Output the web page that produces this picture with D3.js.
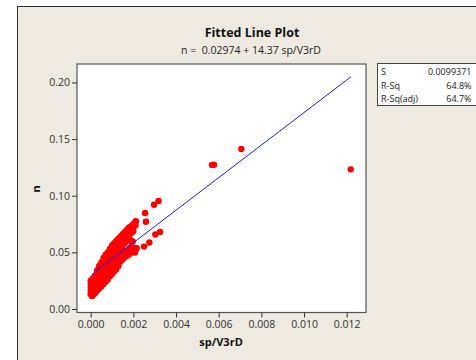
<!DOCTYPE html>
<html>
<head>
<meta charset="utf-8">
<script src="https://cdn.jsdelivr.net/npm/d3@7"></script>
<style>
body{margin:0;background:#fff;}
svg{display:block;font-family:"Open Sans",sans-serif;}
</style>
</head>
<body>
<svg id="chart" width="476" height="360"></svg>
<script>
// fitted line coefficients
var intercept=0.02974, slope=14.37;
var lineX=[0.00005, 0.0122];

// main cluster, one column of n values per sp/V3rD value
var clusterX=[0.0000,0.0001,0.0002,0.0003,0.0004,0.0005,0.0006,0.0007,0.0008,0.0009,0.0010,
  0.0011,0.0012,0.0013,0.0014,0.0015,0.0016,0.0017,0.0018,0.0019,0.0020,0.0021];
var clusterN=[
  [0.013,0.016,0.019,0.022,0.025],
  [0.012,0.015,0.018,0.021,0.024,0.027],
  [0.014,0.017,0.020,0.023,0.026,0.029],
  [0.016,0.019,0.022,0.025,0.028,0.031,0.034],
  [0.018,0.021,0.024,0.027,0.030,0.033,0.036,0.038],
  [0.020,0.023,0.026,0.029,0.032,0.035,0.038,0.041],
  [0.022,0.025,0.028,0.031,0.034,0.037,0.040,0.043,0.045],
  [0.024,0.027,0.030,0.033,0.036,0.039,0.042,0.045,0.048],
  [0.026,0.029,0.032,0.035,0.038,0.041,0.044,0.047,0.050],
  [0.029,0.032,0.035,0.038,0.041,0.044,0.047,0.050,0.053],
  [0.031,0.034,0.037,0.040,0.043,0.046,0.050,0.053,0.056],
  [0.033,0.036,0.039,0.042,0.045,0.052,0.055,0.058],
  [0.035,0.038,0.041,0.044,0.047,0.054,0.057,0.060],
  [0.038,0.041,0.044,0.047,0.050,0.053,0.056,0.059,0.062],
  [0.042,0.045,0.050,0.054,0.058,0.061,0.064],
  [0.044,0.047,0.052,0.056,0.060,0.063,0.066],
  [0.046,0.050,0.058,0.062,0.065,0.068],
  [0.047,0.051,0.060,0.064,0.067,0.070],
  [0.048,0.053,0.063,0.066,0.069,0.072],
  [0.050,0.055,0.060,0.067,0.070,0.073],
  [0.050,0.069,0.072,0.075],
  [0.052,0.054,0.074,0.077]
];
// scattered points
var outX=[0.00006,0.00197,0.00197,0.00208,0.00216,0.00212,0.0025,0.00255,0.00259,0.00275,0.00297,0.00303,0.00318,0.00325,0.00569,0.00578,0.00706,0.01219];
var outN=[0.0115,0.0596,0.0684,0.0498,0.0537,0.0776,0.0551,0.0847,0.077,0.0587,0.092,0.0658,0.0953,0.068,0.1272,0.1274,0.1413,0.1233];

var xTicks=[0,0.002,0.004,0.006,0.008,0.010,0.012];
var yTicks=[0,0.05,0.10,0.15,0.20];
var statNames=["S","R-Sq","R-Sq(adj)"];
var statVals=["0.0099371","64.8%","64.7%"];

var pts=[];
clusterX.forEach(function(xv,i){
  clusterN[i].forEach(function(nv){ pts.push([xv,nv]); });
});
outX.forEach(function(xv,i){ pts.push([xv,outN[i]]); });

var svg=d3.select("#chart");
var pLeft=77, pRight=366, pTop=64, pBottom=312.5;

// outer panel
svg.append("rect").attr("x",17.5).attr("y",6.5).attr("width",500).attr("height",400)
  .attr("fill","#eeeae1").attr("stroke","#333").attr("stroke-width",1);

var x=d3.scaleLinear().domain([-0.000642,0.012905]).range([pLeft,pRight]);
var y=d3.scaleLinear().domain([-0.0031,0.2163]).range([pBottom,pTop]);

svg.append("rect").attr("x",pLeft).attr("y",pTop).attr("width",pRight-pLeft).attr("height",pBottom-pTop)
  .attr("fill","#fff");

// points
svg.append("g").selectAll("circle").data(pts).enter().append("circle")
  .attr("cx",function(d){return x(d[0]);})
  .attr("cy",function(d){return y(d[1]);})
  .attr("r",3.2).attr("fill","#ff0000");

// fitted line
svg.append("path")
  .datum(lineX.map(function(v){return [v,intercept+slope*v];}))
  .attr("d",d3.line().x(function(d){return x(d[0]);}).y(function(d){return y(d[1]);}))
  .attr("fill","none").attr("stroke","#1a1aff").attr("stroke-width",1);

// frame
svg.append("rect").attr("x",pLeft).attr("y",pTop).attr("width",pRight-pLeft).attr("height",pBottom-pTop)
  .attr("fill","none").attr("stroke","#555").attr("stroke-width",1.2);

// axes
var xAxis=svg.append("g").attr("transform","translate(0,"+pBottom+")")
  .call(d3.axisBottom(x).tickValues(xTicks).tickFormat(d3.format(".3f")).tickSize(5).tickPadding(3));
var yAxis=svg.append("g").attr("transform","translate("+pLeft+",0)")
  .call(d3.axisLeft(y).tickValues(yTicks).tickFormat(d3.format(".2f")).tickSize(5).tickPadding(2));
[xAxis,yAxis].forEach(function(a){
  a.select(".domain").remove();
  a.selectAll("line").attr("stroke","#333");
  a.selectAll("text").attr("fill","#333").style("font-size","10.5px").style("font-family","'Open Sans',sans-serif");
});

// titles
svg.append("text").attr("x",252).attr("y",37).attr("text-anchor","middle")
  .style("font-size","12.5px").style("font-weight","bold").attr("fill","#111").text("Fitted Line Plot");
svg.append("text").attr("x",251).attr("y",54).attr("text-anchor","middle")
  .style("font-size","10.5px").style("white-space","pre").attr("fill","#222")
  .text("n =  0.02974 + 14.37 sp/V3rD");
svg.append("text").attr("x",221).attr("y",346).attr("text-anchor","middle")
  .style("font-size","11px").style("font-weight","bold").attr("fill","#111").text("sp/V3rD");
svg.append("text").attr("transform","translate(40,189) rotate(-90)").attr("text-anchor","middle")
  .style("font-size","11px").style("font-weight","bold").attr("fill","#111").text("n");

// stats box
svg.append("rect").attr("x",377.5).attr("y",63.5).attr("width",120).attr("height",42)
  .attr("fill","#fff").attr("stroke","#444").attr("stroke-width",1);
statNames.forEach(function(s,i){
  svg.append("text").attr("x",381).attr("y",75+i*13.5).style("font-size","9px").attr("fill","#222").text(s);
  svg.append("text").attr("x",471.5).attr("y",75+i*13.5).attr("text-anchor","end")
    .style("font-size","9px").attr("fill","#222").text(statVals[i]);
});
</script>
</body>
</html>
